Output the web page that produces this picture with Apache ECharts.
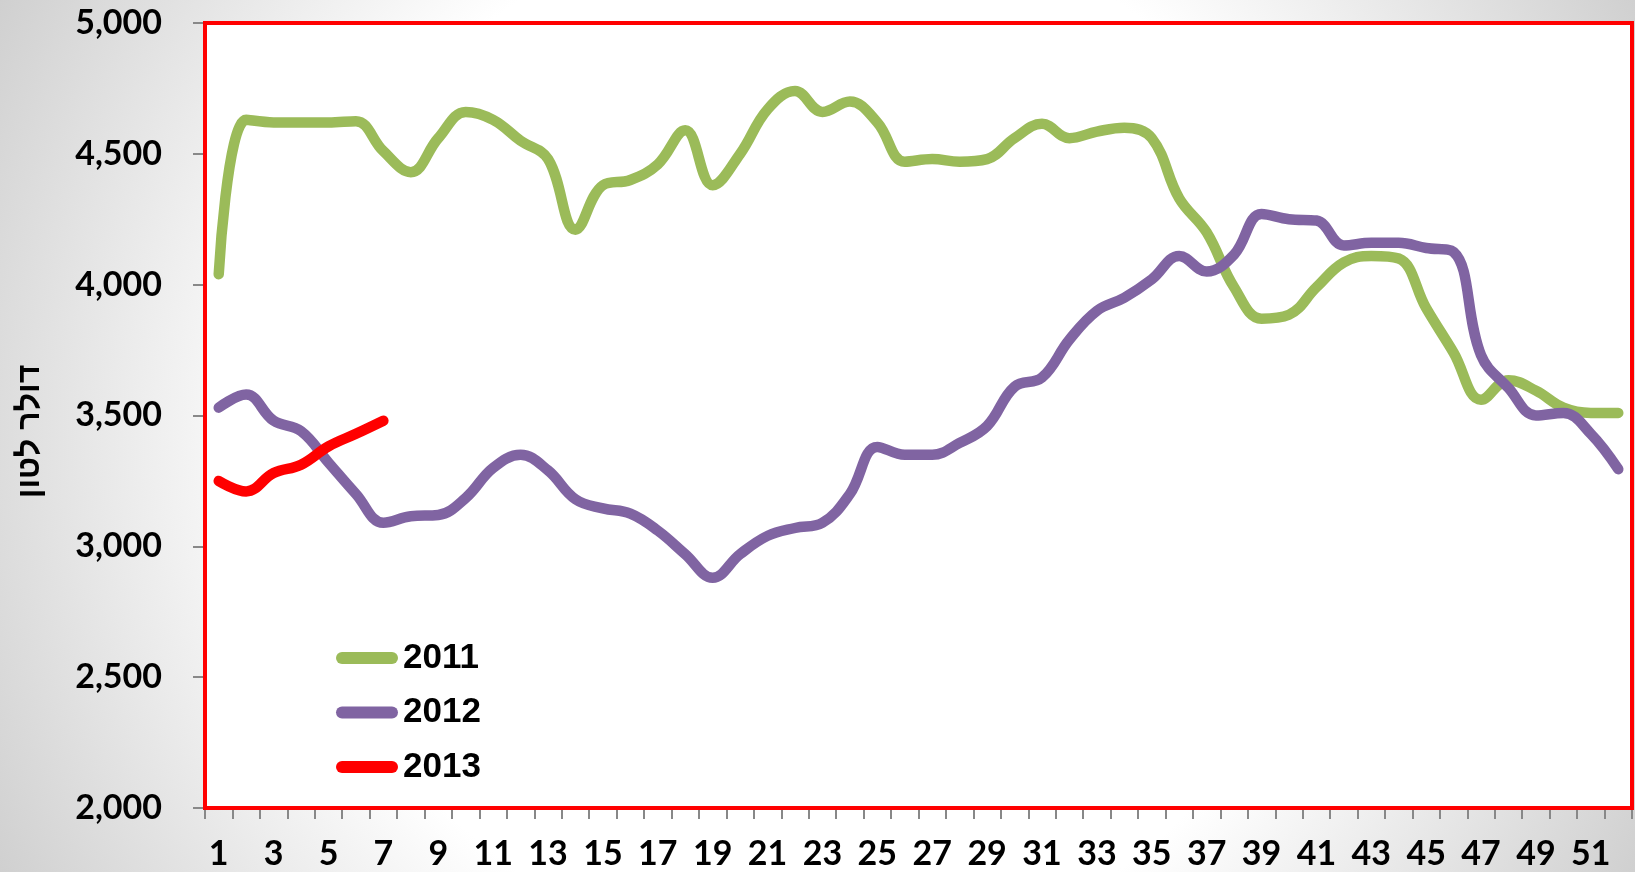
<!DOCTYPE html>
<html>
<head>
<meta charset="utf-8">
<script src="https://cdn.jsdelivr.net/npm/echarts@6/dist/echarts.min.js"></script>
<style>
  html, body { margin: 0; padding: 0; }
  #chart { width: 1635px; height: 872px; }
</style>
</head>
<body>
<div id="chart"></div>
<script>
var weeks = [];
for (var w = 1; w <= 52; w++) weeks.push(String(w));

var years = ['2011', '2012', '2013'];

var data2011 = [4040, 4630, 4620, 4620, 4620, 4625, 4510, 4430, 4560, 4660,
  4630, 4550, 4480, 4210, 4380, 4400, 4460, 4590, 4380, 4500,
  4670, 4740, 4660, 4700, 4620, 4470, 4480, 4470, 4480, 4560,
  4615, 4560, 4585, 4600, 4560, 4330, 4200, 3990, 3870, 3885,
  3990, 4085, 4110, 4100, 3910, 3740, 3560, 3635, 3595, 3530,
  3510, 3510];

var data2012 = [3530, 3580, 3480, 3440, 3320, 3200, 3090, 3115, 3120, 3185,
  3300, 3350, 3290, 3180, 3145, 3125, 3060, 2970, 2880, 2970,
  3040, 3070, 3090, 3200, 3380, 3350, 3350, 3395, 3460, 3610,
  3645, 3790, 3900, 3950, 4020, 4110, 4050, 4115, 4270, 4250,
  4245, 4150, 4160, 4160, 4140, 4125, 3730, 3605, 3500, 3510,
  3430, 3295];

var data2013 = [3250, 3210, 3280, 3312, 3382, 3430, 3480];

var colors = ['#9BBB59', '#8064A2', '#FF0000'];

var chartDom = document.getElementById('chart');
var myChart = echarts.init(chartDom);
var option;

var labelFont = {
  color: '#000',
  fontFamily: 'Lato',
  fontWeight: 'bold',
  fontSize: 34
};

function lineSeries(name, values, color) {
  return {
    name: name,
    type: 'line',
    data: values,
    smooth: 0.4,
    symbol: 'none',
    color: color,
    lineStyle: { width: 10.5, color: color, cap: 'round', join: 'round' },
    z: 3
  };
}

option = {
  animation: false,
  backgroundColor: {
    type: 'radial',
    x: 0.5, y: 0.5, r: 1.1,
    colorStops: [
      { offset: 0, color: '#ffffff' },
      { offset: 0.55, color: '#ffffff' },
      { offset: 1, color: '#cccccc' }
    ]
  },
  grid: {
    left: 205,
    top: 23,
    right: 3,
    bottom: 64,
    show: true,
    backgroundColor: '#ffffff',
    borderColor: '#ff0000',
    borderWidth: 4,
    z: 1
  },
  legend: {
    orient: 'vertical',
    left: 331,
    top: 633,
    itemWidth: 62,
    itemHeight: 12,
    itemGap: 14.5,
    icon: 'path://M6,0 H56 A6,6 0 0 1 56,12 H6 A6,6 0 0 1 6,0 Z',
    data: years,
    textStyle: {
      color: '#000',
      fontFamily: 'Liberation Sans',
      fontWeight: 'bold',
      fontSize: 35,
      lineHeight: 40
    }
  },
  xAxis: {
    type: 'category',
    data: weeks,
    boundaryGap: true,
    axisLine: { show: true, lineStyle: { color: '#ff0000', width: 4 } },
    axisTick: { show: true, interval: 0, length: 11, lineStyle: { color: '#888', width: 2 } },
    axisLabel: Object.assign({ interval: 1, margin: 29 }, labelFont),
    splitLine: { show: false }
  },
  yAxis: {
    type: 'value',
    min: 2000,
    max: 5000,
    interval: 500,
    name: 'דולר לטון',
    nameLocation: 'middle',
    nameRotate: 90,
    nameGap: 159,
    nameTextStyle: {
      color: '#000',
      fontFamily: 'Liberation Sans',
      fontWeight: 'bold',
      fontSize: 32,
      padding: [0, 32, 0, 0]
    },
    axisLine: { show: true, lineStyle: { color: '#ff0000', width: 4 } },
    axisTick: { show: true, length: 12, lineStyle: { color: '#888', width: 2 } },
    axisLabel: Object.assign({
      margin: 43,
      formatter: function (v) { return v.toLocaleString('en-US'); }
    }, labelFont),
    splitLine: { show: true, lineStyle: { color: '#8c8c8c', width: 2 } }
  },
  series: [
    lineSeries(years[0], data2011, colors[0]),
    lineSeries(years[1], data2012, colors[1]),
    lineSeries(years[2], data2013, colors[2])
  ]
};

option && myChart.setOption(option);
</script>
</body>
</html>
